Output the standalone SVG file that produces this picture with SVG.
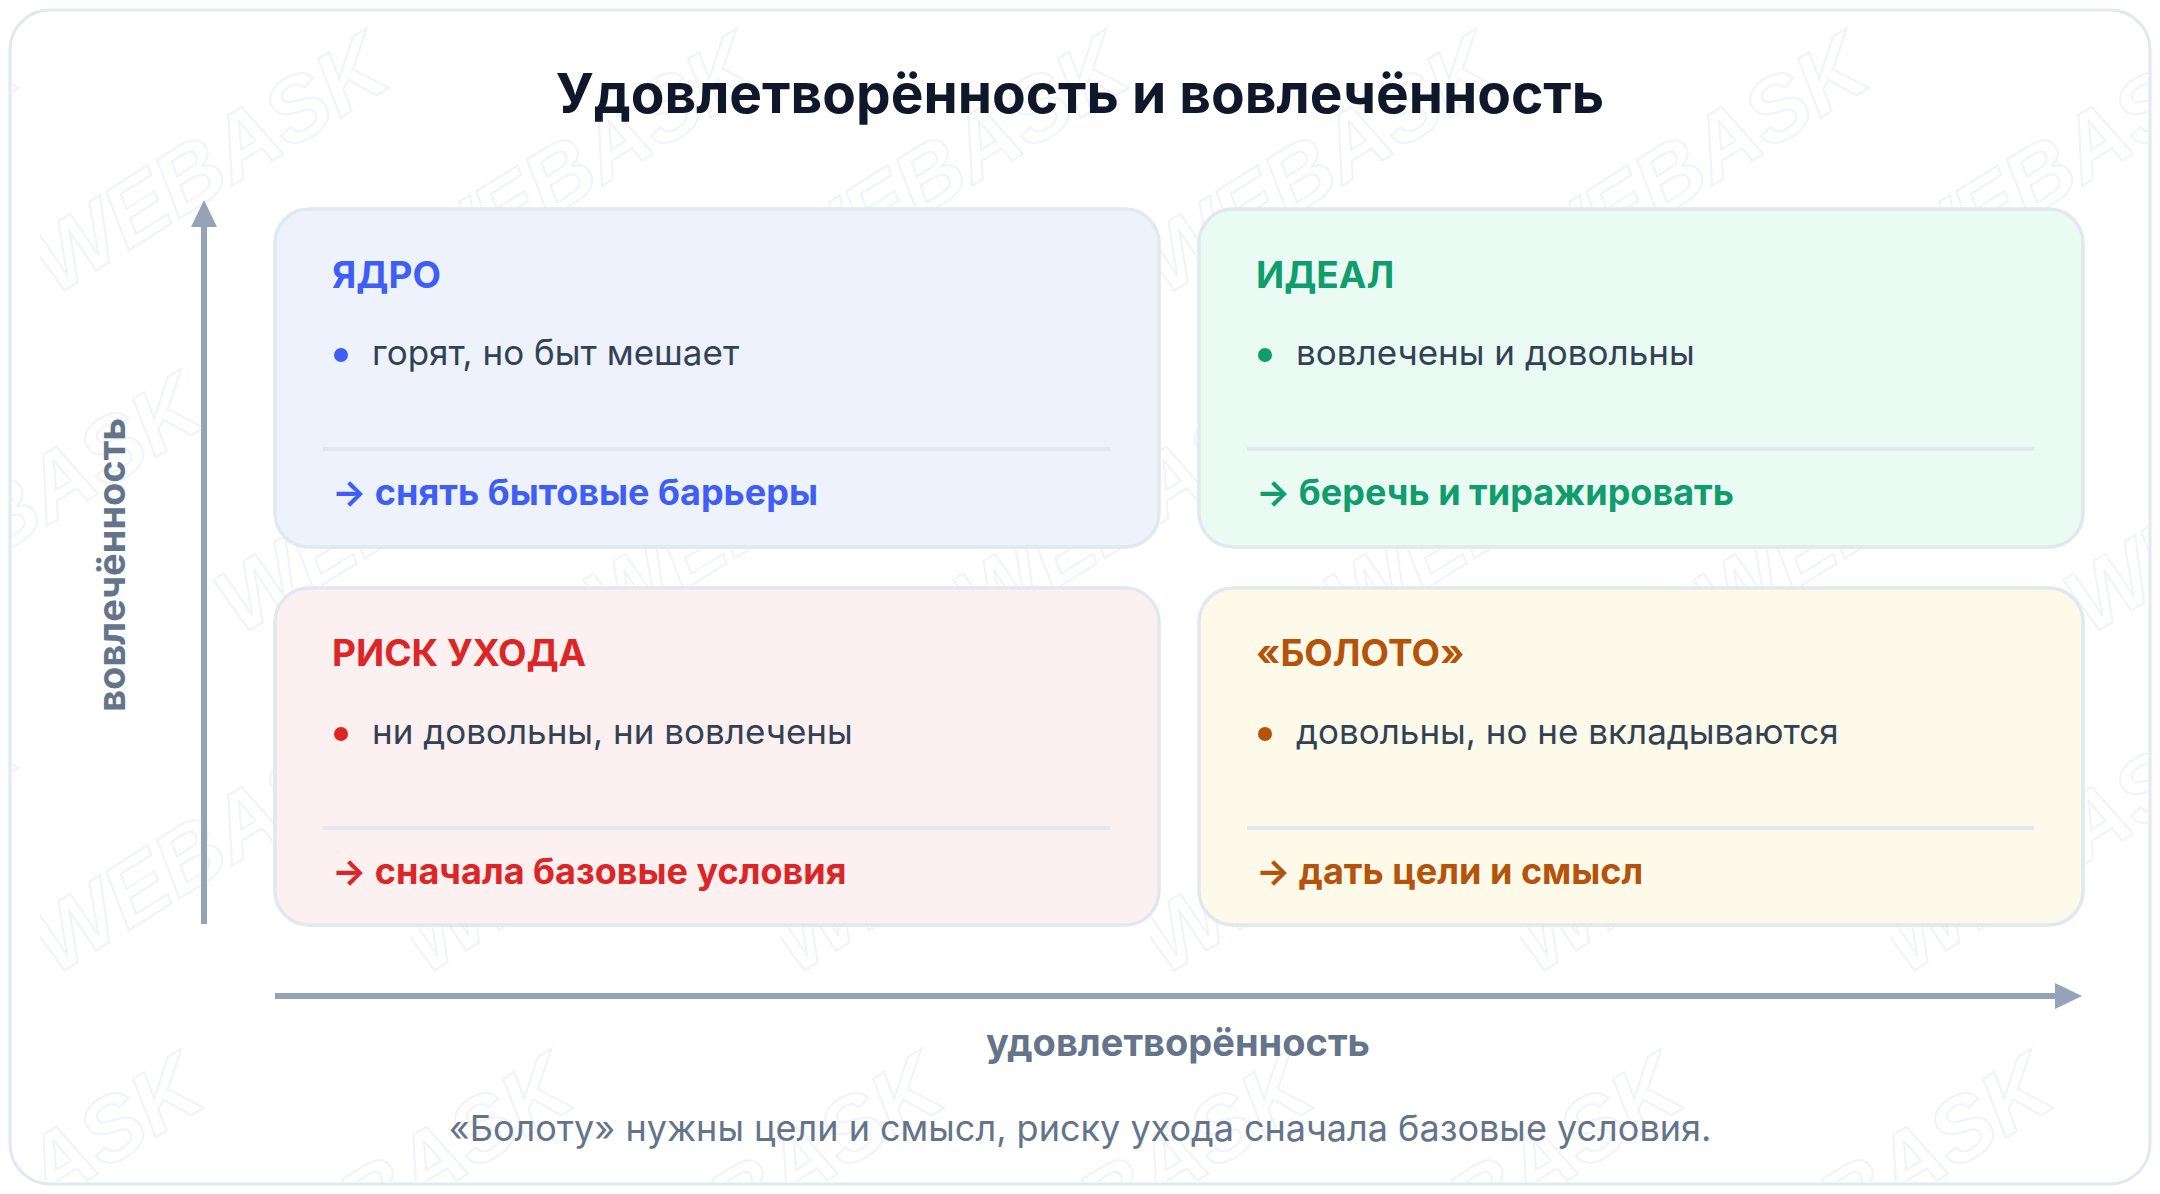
<svg xmlns="http://www.w3.org/2000/svg" width="2160" height="1194" viewBox="0 0 2160 1194">
  <style>
    text { font-family: Inter, "Liberation Sans", sans-serif; }
    .title { font-size: 55px; font-weight: 700; fill: #0f172a; }
    .card { stroke: #e2e8f0; stroke-width: 3.5; }
    .head { font-size: 37px; font-weight: 700; }
    .body { font-size: 35px; fill: #334155; }
    .act { font-size: 36px; font-weight: 700; }
    .div { stroke: #e2e8f0; stroke-width: 4; }
    .axis { stroke: #94a3b8; stroke-width: 6; fill: none; }
    .axlabel { font-size: 38px; font-weight: 700; fill: #64748b; }
    .note { font-size: 36px; fill: #64748b; }
    .wm { font-family: "Liberation Sans", sans-serif; font-size: 90px; font-weight: 700; font-style: italic; fill: none; stroke: #f0f3f8; stroke-width: 2; }
  </style>
  <defs>
    <marker id="ah" markerUnits="userSpaceOnUse" markerWidth="27" markerHeight="26" refX="0" refY="13" orient="auto">
      <path d="M0,0 L27,13 L0,26 z" fill="#94a3b8"/>
    </marker>
    <pattern id="wmp" patternUnits="userSpaceOnUse" width="370" height="680" x="40" y="20">
      <text class="wm" x="0" y="0" transform="translate(185,170) rotate(-32)" text-anchor="middle">WEBASK</text>
      <text class="wm" x="0" y="0" transform="translate(0,510) rotate(-32)" text-anchor="middle">WEBASK</text>
      <text class="wm" x="0" y="0" transform="translate(370,510) rotate(-32)" text-anchor="middle">WEBASK</text>
    </pattern>
  </defs>

  <g id="background">
    <rect x="10" y="10" width="2140" height="1174" rx="40" fill="#ffffff" stroke="#e2e8f0" stroke-width="3"/>
    <rect x="12" y="12" width="2136" height="1170" rx="38" fill="url(#wmp)"/>
  </g>

  <g id="title">
    <text class="title" x="1080" y="113" text-anchor="middle">Удовлетворённость и вовлечённость</text>
  </g>

  <g id="connectors">
    <line class="axis" x1="204" y1="924" x2="204" y2="227" marker-end="url(#ah)"/>
    <line class="axis" x1="275" y1="996" x2="2055" y2="996" marker-end="url(#ah)"/>
  </g>

  <g id="axis-y-label">
    <text class="axlabel" transform="translate(125,565) rotate(-90)" text-anchor="middle">вовлечённость</text>
  </g>
  <g id="axis-x-label">
    <text class="axlabel" x="1178" y="1056" text-anchor="middle">удовлетворённость</text>
  </g>

  <g id="node-core">
    <rect class="card" x="275" y="209" width="884" height="338" rx="34" fill="#eef2fd"/>
    <text class="head" x="332" y="288" fill="#3f5ef5">ЯДРО</text>
    <circle cx="341" cy="355" r="7" fill="#3f5ef5"/>
    <text class="body" x="372" y="365">горят, но быт мешает</text>
    <line class="div" x1="323" y1="449" x2="1110" y2="449"/>
    <text class="act" x="332" y="505" fill="#3f5ef5">→ снять бытовые барьеры</text>
  </g>

  <g id="node-ideal">
    <rect class="card" x="1199" y="209" width="884" height="338" rx="34" fill="#eafbf3"/>
    <text class="head" x="1256" y="288" fill="#0f9d6e">ИДЕАЛ</text>
    <circle cx="1265" cy="355" r="7" fill="#0f9d6e"/>
    <text class="body" x="1296" y="365">вовлечены и довольны</text>
    <line class="div" x1="1247" y1="449" x2="2034" y2="449"/>
    <text class="act" x="1256" y="505" fill="#0f9d6e">→ беречь и тиражировать</text>
  </g>

  <g id="node-risk">
    <rect class="card" x="275" y="588" width="884" height="337" rx="34" fill="#fdf0f1"/>
    <text class="head" x="332" y="666" fill="#dc2626">РИСК УХОДА</text>
    <circle cx="341" cy="734" r="7" fill="#dc2626"/>
    <text class="body" x="372" y="744">ни довольны, ни вовлечены</text>
    <line class="div" x1="323" y1="828" x2="1110" y2="828"/>
    <text class="act" x="332" y="884" fill="#dc2626">→ сначала базовые условия</text>
  </g>

  <g id="node-swamp">
    <rect class="card" x="1199" y="588" width="884" height="337" rx="34" fill="#fdfaea"/>
    <text class="head" x="1256" y="666" fill="#b45309">«БОЛОТО»</text>
    <circle cx="1265" cy="734" r="7" fill="#b45309"/>
    <text class="body" x="1296" y="744">довольны, но не вкладываются</text>
    <line class="div" x1="1247" y1="828" x2="2034" y2="828"/>
    <text class="act" x="1256" y="884" fill="#b45309">→ дать цели и смысл</text>
  </g>

  <g id="footnote">
    <text class="note" x="1080" y="1141" text-anchor="middle">«Болоту» нужны цели и смысл, риску ухода сначала базовые условия.</text>
  </g>
</svg>
